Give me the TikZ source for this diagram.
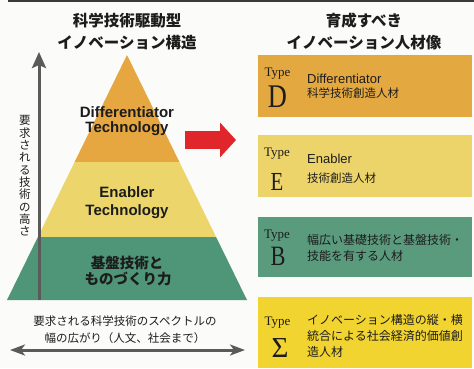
\documentclass[tikz,border=0pt]{standalone}
\usepackage{fontspec}
\setmainfont{Liberation Sans}
\newfontfamily\jp{Noto Sans CJK JP}
\newfontfamily\typefont{Liberation Serif}
\newfontfamily\bigtype[FakeStretch=0.8]{Liberation Serif}
\usetikzlibrary{arrows.meta}
\definecolor{bg}{HTML}{FBFBF9}
\definecolor{ink}{HTML}{1C1C1C}
\definecolor{topbar}{HTML}{3A3A3A}
\definecolor{pyOr}{HTML}{E6A640}
\definecolor{pyYe}{HTML}{ECD66B}
\definecolor{pyGr}{HTML}{4E9677}
\definecolor{boxD}{HTML}{E4A840}
\definecolor{boxE}{HTML}{EDD46A}
\definecolor{boxB}{HTML}{5A9B7E}
\definecolor{boxS}{HTML}{F2D430}
\definecolor{redarrow}{HTML}{E0252B}
\definecolor{arrowgray}{HTML}{5A5A5A}
\begin{document}
\begin{tikzpicture}[x=1pt,y=-1pt,
  title/.style={font=\jp\bfseries\fontsize{15.5}{18}\selectfont, text=ink, inner sep=0},
  pyr/.style={font=\bfseries\fontsize{15}{17}\selectfont, text=ink, inner sep=0, anchor=base},
  pyrjp/.style={font=\jp\bfseries\fontsize{14.5}{16}\selectfont, text=ink, inner sep=0},
  note/.style={font=\jp\fontsize{11.5}{16.5}\selectfont, text=ink, inner sep=0, align=center},
  vnote/.style={font=\jp\fontsize{11.5}{12.3}\selectfont, text=ink, inner sep=0, align=center},
  typebox/.style={inner sep=0, draw=none, minimum width=214pt, anchor=north west},
  typeword/.style={font=\typefont\fontsize{13}{13}\selectfont, text=ink, inner sep=0, anchor=base},
  typeletter/.style={font=\bigtype\fontsize{#1}{#1}\selectfont, text=ink, inner sep=0, anchor=base},
  boxen/.style={font=\fontsize{13}{15}\selectfont, text=ink, inner sep=0, anchor=base west},
  boxjp/.style={font=\jp\fontsize{11.5}{16}\selectfont, text=ink, inner sep=0, anchor=west},
  boxjpl/.style={font=\jp\fontsize{12}{16}\selectfont, text=ink, inner sep=0, anchor=north west, align=left},
  grayarrow/.style={draw=arrowgray, line width=3pt},
]
\useasboundingbox (0,0) rectangle (474,368);
\fill[bg] (0,0) rectangle (474,368);
\fill[topbar] (8,0) rectangle (474,2);

% titles
\node[title] (tl1) at (127,21) {科学技術駆動型};
\node[title] (tl2) at (127,42.5) {イノベーション構造};
\node[title] (tr1) at (364,21) {育成すべき};
\node[title] (tr2) at (364,43) {イノベーション人材像};

% pyramid
\fill[pyOr] (127,55) -- (179.4,162) -- (74.6,162) -- cycle;
\fill[pyYe] (74.6,162) -- (179.4,162) -- (216.1,237) -- (37.9,237) -- cycle;
\fill[pyGr] (37.9,237) -- (216.1,237) -- (247,300) -- (7,300) -- cycle;

\node[pyr] (p1a) at (127,117) {Differentiator};
\node[pyr] (p1b) at (127,132.5) {Technology};
\node[pyr] (p2a) at (127,197) {Enabler};
\node[pyr] (p2b) at (127,215) {Technology};
\node[pyrjp] (p3a) at (127,262.5) {基盤技術と};
\node[pyrjp] (p3b) at (128,279) {ものづくり力};

% vertical arrow and label
\coordinate (vbot) at (39,300);
\coordinate (vtop) at (39,52);
\draw[grayarrow, -{Stealth[length=16pt,width=14pt,inset=3pt]}] (vbot) -- (vtop);
\node[vnote] (vlab) at (25,176) {要\\求\\さ\\れ\\る\\技\\術\\の\\高\\さ};

% horizontal arrow and label
\coordinate (hl) at (10,350);
\coordinate (hr) at (245,350);
\draw[grayarrow, {Stealth[length=15pt,width=11pt,inset=4pt]}-{Stealth[length=15pt,width=11pt,inset=4pt]}] (hl) -- (hr);
\node[note] (hlab) at (125,329.5) {要求される科学技術のスペクトルの\\幅の広がり（人文、社会まで）};

% red arrow
\coordinate (ra) at (185,140);
\coordinate (rb) at (236,140);
\draw[draw=redarrow, line width=18pt, -{Triangle[length=16pt,width=34pt]}] (ra) -- (rb);

% boxes
\node[typebox, fill=boxD, minimum height=62pt] (bD) at (258,55) {};
\node[typebox, fill=boxE, minimum height=62pt] (bE) at (258,135) {};
\node[typebox, fill=boxB, minimum height=60pt] (bB) at (258,217) {};
\node[typebox, fill=boxS, minimum height=71pt] (bS) at (258,297) {};

% box D
\node[typeword] (tD) at (277.5,76.5) {Type};
\node[typeletter=33] (lD) at (277.5,107) {D};
\node[boxen] (eD) at (307,83) {Differentiator};
\node[boxjp] (jD) at (307,93) {科学技術創造人材};

% box E
\node[typeword] (tE) at (277,156) {Type};
\node[typeletter=26] (lE) at (277,190) {E};
\node[boxen] (eE) at (307,163) {Enabler};
\node[boxjp] (jE) at (307,178) {技術創造人材};

% box B
\node[typeword] (tB) at (277,238.5) {Type};
\node[typeletter=28] (lB) at (278,265) {B};
\node[boxjpl] (jB) at (307,234.5) {幅広い基礎技術と基盤技術・\\技能を有する人材};

% box Sigma
\node[typeword] (tS) at (277.5,325.5) {Type};
\node[typeword, font=\typefont\fontsize{29}{29}\selectfont] (lS) at (280,357) {Σ};
\node[boxjpl] (jS) at (307,314.5) {イノベーション構造の縦・横\\統合による社会経済的価値創\\造人材};
\end{tikzpicture}
\end{document}
